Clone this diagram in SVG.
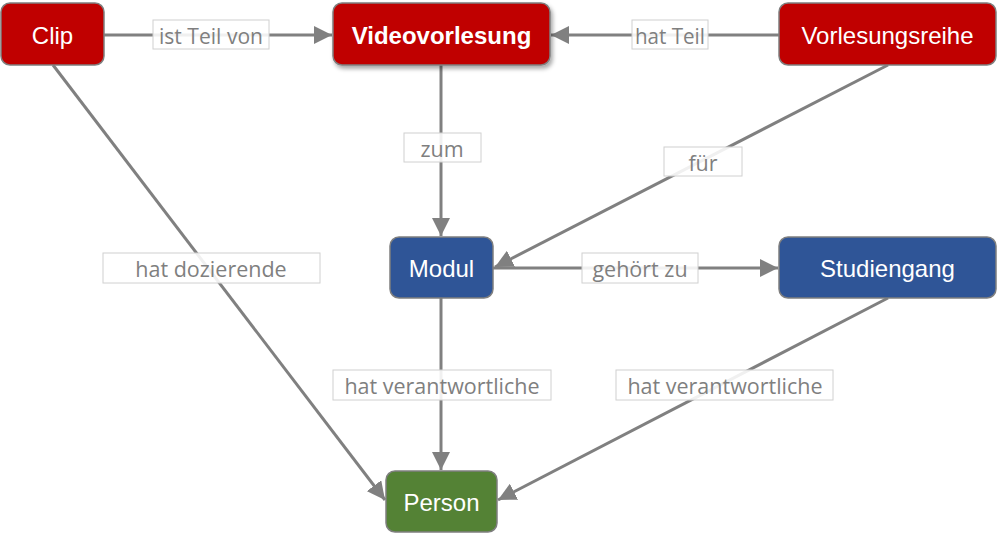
<svg xmlns="http://www.w3.org/2000/svg" width="997" height="533" viewBox="0 0 997 533">
<style>
.node{stroke:#7f7f7f;stroke-width:1.5}
.red{fill:#C00000}
.blue{fill:#2F5597}
.green{fill:#548235}
.nt{font-family:"Liberation Sans",Arial,sans-serif;font-size:24px;fill:#fff;text-anchor:middle;dominant-baseline:central}
.edge{stroke:#808080;stroke-width:3;fill:none}
.lb{fill:#fff;fill-opacity:0.88;stroke:#d0d0d0;stroke-width:1}
.lt{font-family:"Open Sans","Noto Sans",sans-serif;font-size:21.5px;fill:#7f7f7f;text-anchor:middle;dominant-baseline:central}
</style>
<defs>
<marker id="ah" viewBox="0 0 10 10" refX="10" refY="5" markerWidth="6" markerHeight="6" markerUnits="strokeWidth" orient="auto">
<path d="M0,0 L10,5 L0,10 z" fill="#808080"/>
</marker>
<filter id="sh" x="-10%" y="-20%" width="125%" height="150%">
<feDropShadow dx="2" dy="3" stdDeviation="2" flood-color="#000" flood-opacity="0.35"/>
</filter>
</defs>
<g id="connectors">
<line class="edge" x1="104" y1="35" x2="332" y2="35" marker-end="url(#ah)"/>
<line class="edge" x1="779" y1="35" x2="551" y2="35" marker-end="url(#ah)"/>
<line class="edge" x1="441" y1="65" x2="441" y2="236" marker-end="url(#ah)"/>
<line class="edge" x1="888" y1="65" x2="495" y2="267" marker-end="url(#ah)"/>
<line class="edge" x1="493" y1="268" x2="778" y2="268" marker-end="url(#ah)"/>
<line class="edge" x1="53" y1="65" x2="385" y2="500" marker-end="url(#ah)"/>
<line class="edge" x1="441" y1="298" x2="441" y2="470" marker-end="url(#ah)"/>
<line class="edge" x1="888" y1="298" x2="498" y2="500" marker-end="url(#ah)"/>
<rect class="lb" x="153" y="20" width="116" height="29"/>
<text class="lt" x="211" y="35" textLength="104" lengthAdjust="spacingAndGlyphs">ist Teil von</text>
<rect class="lb" x="632" y="20" width="76" height="29"/>
<text class="lt" x="670" y="35" textLength="70" lengthAdjust="spacingAndGlyphs">hat Teil</text>
<rect class="lb" x="404" y="133" width="77" height="29"/>
<text class="lt" x="442" y="148">zum</text>
<rect class="lb" x="664" y="147" width="78" height="29"/>
<text class="lt" x="703" y="162">für</text>
<rect class="lb" x="103" y="253" width="217" height="30"/>
<text class="lt" x="211" y="268">hat dozierende</text>
<rect class="lb" x="582" y="253" width="116" height="30"/>
<text class="lt" x="640" y="268">gehört zu</text>
<rect class="lb" x="333" y="370" width="218" height="30"/>
<text class="lt" x="442" y="385">hat verantwortliche</text>
<rect class="lb" x="616" y="370" width="217" height="30"/>
<text class="lt" x="725" y="385">hat verantwortliche</text>
</g>
<g id="clip">
<rect class="node red" x="1" y="3" width="103" height="62" rx="9"/>
<text class="nt" x="52.5" y="35">Clip</text>
</g>
<g id="videovorlesung">
<rect class="node red" x="333" y="3" width="217" height="62" rx="9" filter="url(#sh)"/>
<text class="nt" x="441.5" y="35" font-weight="bold">Videovorlesung</text>
</g>
<g id="vorlesungsreihe">
<rect class="node red" x="779" y="3" width="217" height="62" rx="9"/>
<text class="nt" x="887.5" y="35">Vorlesungsreihe</text>
</g>
<g id="modul">
<rect class="node blue" x="390" y="237" width="103" height="61" rx="9"/>
<text class="nt" x="441.5" y="268">Modul</text>
</g>
<g id="studiengang">
<rect class="node blue" x="779" y="237" width="217" height="61" rx="9"/>
<text class="nt" x="887.5" y="268">Studiengang</text>
</g>
<g id="person">
<rect class="node green" x="386" y="471" width="111" height="61" rx="9"/>
<text class="nt" x="441.5" y="502">Person</text>
</g>
</svg>
